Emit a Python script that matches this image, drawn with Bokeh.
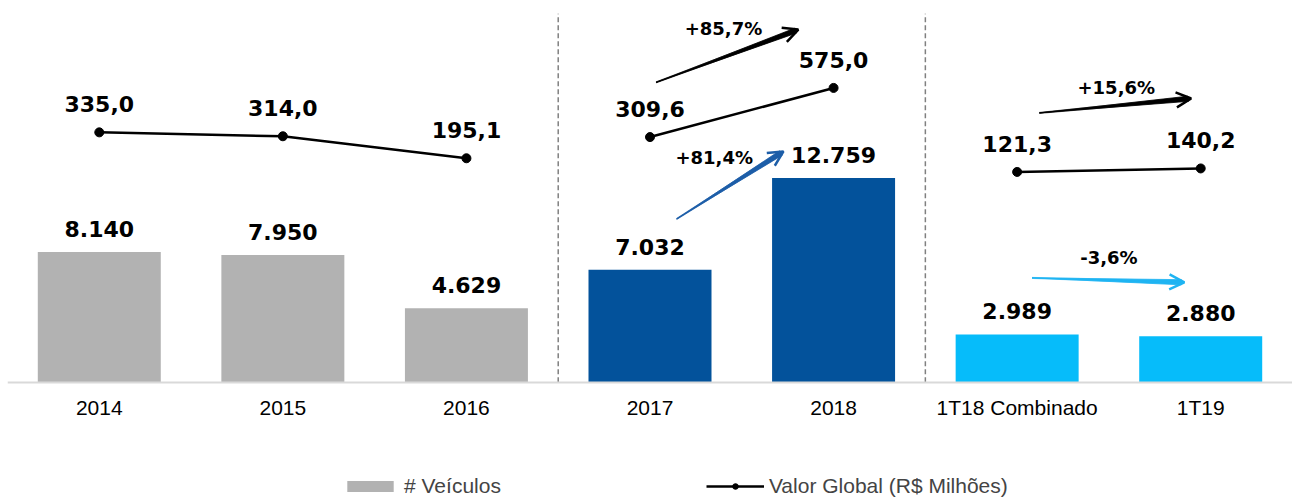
import math
from bokeh.plotting import figure
from bokeh.models import (FactorRange, Range1d, Legend, LegendItem, Arrow,
                          OpenHead, ColumnDataSource)
from bokeh.core.properties import value
from bokeh.embed import file_html
from bokeh.resources import INLINE

# ---------------- data ----------------
categories = ["2014", "2015", "2016", "2017", "2018", "1T18 Combinado", "1T19"]
veiculos = [8140, 7950, 4629, 7032, 12759, 2989, 2880]
valor = [335.0, 314.0, 195.1, 309.6, 575.0, 121.3, 140.2]
veiculos_labels = ["8.140", "7.950", "4.629", "7.032", "12.759", "2.989", "2.880"]
valor_labels = ["335,0", "314,0", "195,1", "309,6", "575,0", "121,3", "140,2"]
group = [0, 0, 0, 1, 1, 2, 2]
line_groups = [[0, 1, 2], [3, 4], [5, 6]]
growth_labels = ["+85,7%", "+81,4%", "+15,6%", "-3,6%"]

# ---------------- styling / layout ----------------
group_colors = ["#b2b2b2", "#03529b", "#06bcfa"]
bar_colors = [group_colors[g] for g in group]
FW, FH = 1285, 489
BAR_MIN, BAR_MAX = -7202, 23360
LINE_MIN, LINE_MAX = -1637, 1004

p = figure(x_range=FactorRange(*categories, range_padding=0),
           y_range=Range1d(BAR_MIN, BAR_MAX),
           frame_width=FW, frame_height=FH,
           output_backend="svg", toolbar_location=None,
           y_axis_location=None, min_border=0,
           min_border_left=7, min_border_top=8,
           background_fill_color="white", border_fill_color="white")
p.extra_y_ranges = {"valor": Range1d(LINE_MIN, LINE_MAX)}
p.outline_line_color = None
p.xgrid.visible = False
p.ygrid.visible = False

src = ColumnDataSource(dict(cat=categories, v=veiculos, c=bar_colors,
                            vl=veiculos_labels, g=valor, gl=valor_labels))

bars = p.vbar(x="cat", top="v", bottom=0, width=0.67, fill_color="c", line_color=None,
              source=src)

# group separators
p.segment(x0=[3, 5], y0=[0, 0], x1=[3, 5], y1=[23030, 23030],
          line_color="#808080", line_width=1.5, line_dash="5 3")

# line segments by group
line_r = None
for idx in line_groups:
    line_r = p.line(x=[categories[i] for i in idx], y=[valor[i] for i in idx],
                    line_color="black", line_width=2.5, y_range_name="valor")
dots = p.scatter(x="cat", y="g", size=9, color="black", source=src, y_range_name="valor")

bold = dict(text_align="center", text_baseline="middle", text_font=value("DejaVu Sans"),
            text_font_style="bold", text_color="black")
p.text(x="cat", y="v", text="vl", y_offset=-23, text_font_size="22px", source=src, **bold)
p.text(x="cat", y="g", text="gl", y_offset=-28, text_font_size="22px", source=src,
       y_range_name="valor", **bold)

# growth annotations (x in category units, y in the matching scale)
growth_pos = [(3.9, 894, "valor"), (3.85, 14062, "default"),
              (6.04, 578, "valor"), (6.0, 7794, "default")]
for (gx, gy, rn), txt in zip(growth_pos, growth_labels):
    p.text(x=[gx], y=[gy], text=[txt], text_font_size="18px", y_range_name=rn, **bold)

px_x = FW / len(categories)


def px_y(rn):
    return FH / (LINE_MAX - LINE_MIN) if rn == "valor" else FH / (BAR_MAX - BAR_MIN)


def sketch_arrow(x0, y0, x1, y1, rn, color):
    sy = px_y(rn)
    dx, dy = (x1 - x0) * px_x, (y1 - y0) * sy
    L = math.hypot(dx, dy)
    ux, uy = dx / L, dy / L
    nx, ny = -uy, ux
    bx, by = x1 - ux * 3 / px_x, y1 - uy * 3 / sy
    w = 2.6
    xs = [x0, bx + nx * w / px_x, bx - nx * w / px_x]
    ys = [y0, by + ny * w / sy, by - ny * w / sy]
    kw = {} if rn == "default" else {"y_range_name": rn}
    p.patch(xs, ys, fill_color=color, line_color=color, line_width=0.8, **kw)
    for off in (-1.8, 1.8):
        p.line([x0 + nx * off * 0.3 / px_x, bx + nx * off / px_x],
               [y0 + ny * off * 0.3 / sy, by + ny * off / sy],
               line_color=color, line_width=0.8, line_alpha=0.7, **kw)
    p.add_layout(Arrow(x_start=x0, y_start=y0, x_end=x1, y_end=y1,
                       line_color=color, line_width=1.2, y_range_name=rn,
                       end=OpenHead(size=15, line_width=2.5, line_color=color)))


arrows = [(3.533, 605, 4.308, 890, "valor", "black"),
          (3.645, 10206, 4.227, 14428, "default", "#1d5ea8"),
          (5.621, 440, 6.448, 518, "valor", "black"),
          (5.581, 6521, 6.411, 6246, "default", "#1fb4f2")]
for a in arrows:
    sketch_arrow(*a)

# axis, pinned at the bars' zero line inside the frame
ax = p.xaxis[0]
ax.fixed_location = 0
ax.axis_line_color = "#d9d9d9"
ax.axis_line_width = 2
ax.major_tick_line_color = None
ax.minor_tick_line_color = None
ax.major_tick_out = 0
ax.major_label_standoff = 14
ax.major_label_text_font = "Liberation Sans"
ax.major_label_text_font_size = "21px"
ax.major_label_text_color = "black"

legend = Legend(items=[LegendItem(label="# Veículos", renderers=[bars], index=0),
                       LegendItem(label="Valor Global (R$ Milhões)", renderers=[line_r, dots])],
                orientation="horizontal", location=(334, -1),
                glyph_width=58, glyph_height=14, label_standoff=5, spacing=205,
                label_text_font="Liberation Sans", label_text_font_size="21px",
                border_line_color=None, background_fill_alpha=0, padding=0, margin=0)
p.add_layout(legend, "center")

open("out.html", "w").write(file_html(p, INLINE))
